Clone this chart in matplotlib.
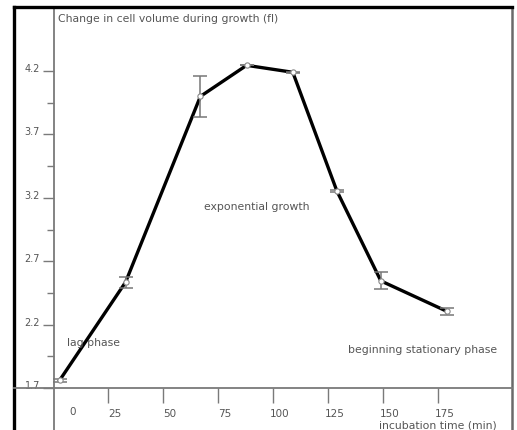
import matplotlib
matplotlib.use("Agg")
import matplotlib.pyplot as plt
import matplotlib.transforms as mtransforms

# incubation time (min) and cell volume change (fl)
time_min = [3, 33, 67, 88, 109, 129, 149, 179]
volume_fl = [1.76, 2.535, 4.00, 4.245, 4.19, 3.255, 2.545, 2.305]
volume_err = [0.015, 0.043, 0.16, 0.0, 0.004, 0.008, 0.067, 0.028]

y_major = [1.7, 2.2, 2.7, 3.2, 3.7, 4.2]
y_minor = [1.95, 2.45, 2.95, 3.45, 3.95]
x_ticks = [25, 50, 75, 100, 125, 150, 175]

plt.rcParams["font.family"] = ["DejaVu Sans"]

fig = plt.figure(figsize=(5.17, 4.30), dpi=100)
ax = fig.add_axes([14 / 517, 0, 498 / 517, 423 / 430])

ax.set_xlim(-17.7, 208.6)
ax.set_ylim(1.369, 4.705)

axis_grey = "#7a7a7a"
text_grey = "#555555"
fs = 7.8

# frame
ax.spines["top"].set_color("black")
ax.spines["top"].set_linewidth(2.4)
ax.spines["right"].set_color("#6a6a6a")
ax.spines["right"].set_linewidth(1.8)
ax.plot([0, 0], [0, 1], transform=ax.transAxes, color="black", lw=2.4, clip_on=False)

# axes crossing inside the frame
ax.spines["left"].set_position(("data", 0.5))
ax.spines["left"].set_color(axis_grey)
ax.spines["left"].set_linewidth(1.3)
ax.spines["bottom"].set_position(("data", 1.7))
ax.spines["bottom"].set_color(axis_grey)
ax.spines["bottom"].set_linewidth(1.3)

ax.set_yticks(y_major)
ax.set_yticklabels([f"{v:.1f}" for v in y_major])
ax.set_yticks(y_minor, minor=True)
ax.tick_params(axis="y", which="major", direction="out", length=8, width=1,
               color=axis_grey, labelsize=7, labelcolor=text_grey, pad=2)
ax.tick_params(axis="y", which="minor", direction="out", length=5, width=1,
               color=axis_grey)

ax.set_xticks(x_ticks)
ax.set_xticklabels([str(v) for v in x_ticks])
ax.tick_params(axis="x", direction="out", length=11, width=1,
               color=axis_grey, labelsize=7.5, labelcolor=text_grey, pad=4)

up = mtransforms.ScaledTranslation(0, 3 / 100, fig.dpi_scale_trans)
for lab in ax.get_yticklabels():
    lab.set_transform(lab.get_transform() + up)
right = mtransforms.ScaledTranslation(7 / 100, 0, fig.dpi_scale_trans)
for lab in ax.get_xticklabels():
    lab.set_transform(lab.get_transform() + right)

# the stray "0" label sits right of the y axis
down = mtransforms.ScaledTranslation(0, -19 / 100, fig.dpi_scale_trans)
ax.text(9, 1.7, "0", transform=ax.transData + down, fontsize=7.5,
        color=text_grey, ha="center", va="top")

# data
ax.plot(time_min, volume_fl, color="black", lw=2.4, zorder=3)
ax.errorbar(time_min, volume_fl, yerr=volume_err, fmt="none", ecolor="#777777",
            elinewidth=1.1, capsize=5, capthick=1.1, zorder=4)
ax.plot(time_min, volume_fl, linestyle="none", marker="o", markersize=3.8,
        markerfacecolor="white", markeredgecolor="#888888", markeredgewidth=0.8, zorder=5)

# labels
fig.text(58 / 517, 1 - 19 / 430, "Change in cell volume during growth (fl)",
         fontsize=fs, color=text_grey, ha="left", va="center")
fig.text(67 / 517, 1 - 343 / 430, "lag phase", fontsize=fs, color=text_grey,
         ha="left", va="center")
fig.text(257 / 517, 1 - 207 / 430, "exponential growth", fontsize=fs,
         color=text_grey, ha="center", va="center")
fig.text(423 / 517, 1 - 350 / 430, "beginning stationary phase", fontsize=fs,
         color=text_grey, ha="center", va="center")
fig.text(438 / 517, 1 - 421 / 430, "incubation time (min)", fontsize=fs,
         color=text_grey, ha="center", va="top")

fig.savefig("out.png", dpi=100)
